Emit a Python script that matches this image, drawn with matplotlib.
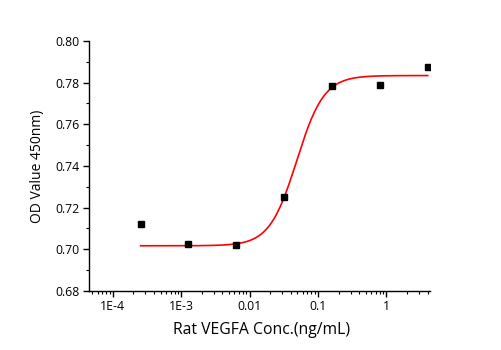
import numpy as np
import matplotlib
matplotlib.use("Agg")
import matplotlib.pyplot as plt
from matplotlib.ticker import LogLocator, MultipleLocator, FixedLocator, FixedFormatter

# measured points
conc = [0.000256, 0.00128, 0.0064, 0.032, 0.16, 0.8, 4.0]
od = [0.7120, 0.7024, 0.7022, 0.7251, 0.7785, 0.7787, 0.7874]

# 4PL fit parameters
bottom = 0.7017
top = 0.7834
ec50 = 0.0488
hill = 2.18

x_ticks = [1e-4, 1e-3, 1e-2, 1e-1, 1]
x_tick_labels = ["1E-4", "1E-3", "0.01", "0.1", "1"]

plt.rcParams['font.family'] = ['Open Sans', 'DejaVu Sans']

fig = plt.figure(figsize=(5.01, 3.5), dpi=100)
ax = fig.add_axes([0.1776, 0.1686, 0.6804, 0.7144])

xf = np.logspace(np.log10(conc[0]), np.log10(conc[-1]), 300)
yf = bottom + (top - bottom) / (1 + (ec50 / xf) ** hill)
ax.plot(xf, yf, color='red', lw=1.2, zorder=2)
ax.plot(conc, od, 's', color='black', ms=4.6, zorder=3)

ax.set_xscale('log')
ax.set_xlim(4.5e-5, 4.3)
ax.set_ylim(0.68, 0.80)

ax.xaxis.set_major_locator(FixedLocator(x_ticks))
ax.xaxis.set_major_formatter(FixedFormatter(x_tick_labels))
ax.xaxis.set_minor_locator(LogLocator(base=10, subs=np.arange(2, 10)))
ax.yaxis.set_major_locator(MultipleLocator(0.02))
ax.yaxis.set_minor_locator(MultipleLocator(0.01))
ax.yaxis.set_major_formatter(plt.FuncFormatter(lambda v, p: "%.2f" % v))

for s in ['top', 'right']:
    ax.spines[s].set_visible(False)
for s in ['left', 'bottom']:
    ax.spines[s].set_linewidth(1.0)

ax.tick_params(which='major', direction='out', length=4, width=1, labelsize=8.8, pad=2.5)
ax.tick_params(which='minor', direction='out', length=2.5, width=0.8)

ax.set_xlabel("Rat VEGFA Conc.(ng/mL)", fontsize=11.3)
ax.set_ylabel("OD Value 450nm)", fontsize=10)
ax.xaxis.set_label_coords(0.507, -0.125)
ax.yaxis.set_label_coords(-0.13, 0.5)

fig.savefig("out.png", dpi=100)
